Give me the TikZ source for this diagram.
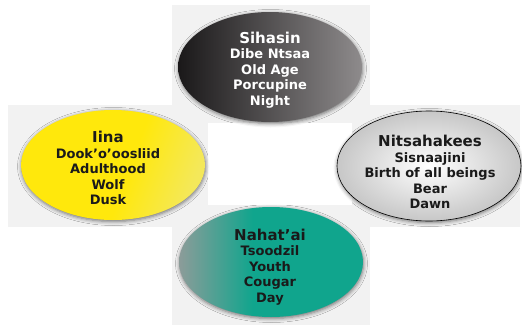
\documentclass[tikz,border=0pt]{standalone}
\usepackage{fontspec}
\setmainfont{DejaVu Sans}
\usetikzlibrary{shapes.geometric,shadows.blur}
\definecolor{panelgray}{HTML}{F2F2F2}
\definecolor{nightdark}{HTML}{1A1819}
\definecolor{nightgray}{HTML}{8E8B8C}
\definecolor{duskyellow}{HTML}{FFE80C}
\definecolor{dusklight}{HTML}{F4E85A}
\definecolor{dayteal}{HTML}{10A58D}
\definecolor{daygray}{HTML}{8C9C99}
\definecolor{inktext}{HTML}{1A1A1A}
\pgfdeclarehorizontalshading{dayshade}{100bp}{color(0bp)=(daygray); color(25bp)=(daygray);
  color(45bp)=(dayteal); color(100bp)=(dayteal)}
\pgfdeclarehorizontalshading{duskshade}{100bp}{color(0bp)=(duskyellow); color(55bp)=(duskyellow);
  color(75bp)=(dusklight); color(100bp)=(dusklight)}
\newcommand{\panelbox}[2]% corner, corner
{(#1) rectangle (#2)
}
\newcommand{\headword}[1]{{\fontsize{15}{15.5}\selectfont #1}}

\begin{document}
\begin{tikzpicture}[x=1pt,y=-1pt,
  phase/.style={ellipse, minimum width=184pt, minimum height=110pt, inner sep=0pt,
    blur shadow={shadow xshift=0.5pt, shadow yshift=-1.5pt, shadow blur radius=4pt, shadow opacity=55}},
  words/.style={align=center, text=inktext, font=\bfseries\fontsize{13}{15.5}\selectfont}]
  \useasboundingbox (0,0) rectangle (522,327);
  % grey cross behind the four phases
  \fill[panelgray] \panelbox{172,5}{370,123};
  \fill[panelgray] \panelbox{8,105}{208,227};
  \fill[panelgray] \panelbox{352,105}{520,227};
  \fill[panelgray] \panelbox{172,205}{370,325};
  % the four phases
  \node[phase, left color=nightdark, right color=nightgray] (sihasin) at (270,67) {};
  \node[phase, shading=duskshade, shading angle=-20] (iina) at (113,165) {};
  \node[phase, draw=black, line width=0.6pt, inner color=white, outer color=black!22] (nitsahakees) at (429,166) {};
  \node[phase, shading=dayshade] (nahatai) at (271,262) {};
  % their words
  \node[words, text=white] (sihasin-words) at (270,70)
    {\headword{Sihasin}\\Dibe Ntsaa\\Old Age\\Porcupine\\Night};
  \node[words] (iina-words) at (108,168)
    {\headword{Iina}\\Dook’o’oosliid\\Adulthood\\Wolf\\Dusk};
  \node[words] (nitsahakees-words) at (430,172)
    {\headword{Nitsahakees}\\Sisnaajini\\Birth of all beings\\Bear\\Dawn};
  \node[words] (nahatai-words) at (270,267)
    {\headword{Nahat’ai}\\Tsoodzil\\Youth\\Cougar\\Day};
\end{tikzpicture}
\end{document}
